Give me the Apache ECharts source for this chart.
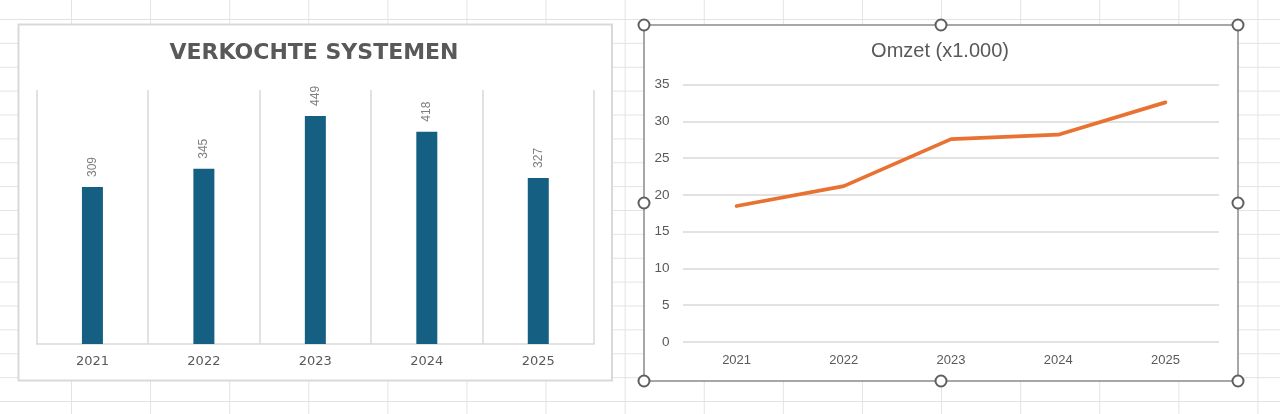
<!DOCTYPE html>
<html>
<head>
<meta charset="utf-8">
<script src="https://cdn.jsdelivr.net/npm/echarts@6/dist/echarts.min.js"></script>
<style>
  html, body { margin: 0; padding: 0; background: #ffffff; }
  #chart {
    width: 1280px; height: 414px;
    background-color: #ffffff;
    background-image:
      linear-gradient(to right, #e3e3e3 1px, transparent 1px),
      linear-gradient(to bottom, #e3e3e3 1px, transparent 1px);
    background-size: 79.1px 100%, 100% 23.88px;
    background-position: 71px 0, 0 19px;
  }
</style>
</head>
<body>
<div id="chart"></div>
<script>
// ---- data ----
const categories = ['2021', '2022', '2023', '2024', '2025'];
const soldSystems = [309, 345, 449, 418, 327];
const revenue = [18.5, 21.2, 27.6, 28.2, 32.6];
const barTitle = 'VERKOCHTE SYSTEMEN';
const lineTitle = 'Omzet (x1.000)';
const revenueAxis = { min: 0, max: 35, interval: 5 };
const soldAxis = { min: 0, max: 500 };

const chart = echarts.init(document.getElementById('chart'), null, { renderer: 'canvas' });

const handlePts = [
  [644, 25], [941, 25], [1238, 25],
  [644, 203], [1238, 203],
  [644, 381], [941, 381], [1238, 381]
];

const option = {
  animation: false,
  backgroundColor: 'transparent',
  graphic: [
    { type: 'rect', z: -10, shape: { x: 18.5, y: 24.5, width: 593.5, height: 356 },
      style: { fill: '#ffffff', stroke: '#d9d9d9', lineWidth: 2 } },
    { type: 'rect', z: -10, shape: { x: 644, y: 25, width: 594, height: 356 },
      style: { fill: '#ffffff', stroke: '#8a8a8a', lineWidth: 1.5 } },
    { type: 'text', z: 10, x: 314, y: 53.5,
      style: { text: barTitle, align: 'center', verticalAlign: 'middle',
               font: 'bold 22px "DejaVu Sans"', fill: '#595959' } },
    { type: 'text', z: 10, x: 940, y: 51,
      style: { text: lineTitle, align: 'center', verticalAlign: 'middle',
               font: '20px "Liberation Sans"', fill: '#595959' } }
  ].concat(handlePts.map(p => ({
    type: 'circle', z: 100, shape: { cx: p[0], cy: p[1], r: 5.5 },
    style: { fill: '#ffffff', stroke: '#5f5f5f', lineWidth: 2 }
  }))),
  grid: [
    { left: 36.7, top: 90, width: 557.3, height: 254, containLabel: false },
    { left: 683, top: 84.7, width: 536, height: 257.3, containLabel: false }
  ],
  xAxis: [
    { type: 'category', gridIndex: 0, data: categories, boundaryGap: true,
      axisLine: { show: true, lineStyle: { color: '#d9d9d9', width: 1.5 } },
      axisTick: { show: false },
      splitLine: { show: true, interval: 0, lineStyle: { color: '#d9d9d9', width: 1.5 } },
      axisLabel: { margin: 11, fontFamily: 'DejaVu Sans', fontSize: 13, color: '#595959' } },
    { type: 'category', gridIndex: 1, data: categories, boundaryGap: true,
      axisLine: { show: false },
      axisTick: { show: false },
      axisLabel: { margin: 12, fontFamily: 'Liberation Sans', fontSize: 13, color: '#595959' } }
  ],
  yAxis: [
    { type: 'value', gridIndex: 0, min: soldAxis.min, max: soldAxis.max, show: false,
      splitLine: { show: false } },
    { type: 'value', gridIndex: 1, min: revenueAxis.min, max: revenueAxis.max, interval: revenueAxis.interval,
      axisLine: { show: false }, axisTick: { show: false },
      splitLine: { show: true, lineStyle: { color: '#d9d9d9', width: 1.5 } },
      axisLabel: { margin: 13.5, fontFamily: 'Liberation Sans', fontSize: 13.5, color: '#595959' } }
  ],
  series: [
    { type: 'bar', xAxisIndex: 0, yAxisIndex: 0, data: soldSystems, barWidth: 21,
      itemStyle: { color: '#156082' },
      label: { show: true, position: 'top', rotate: 90, align: 'left', verticalAlign: 'middle',
               distance: 10, fontFamily: 'Liberation Sans', fontSize: 12, color: '#7f7f7f' } },
    { type: 'line', xAxisIndex: 1, yAxisIndex: 1, data: revenue, showSymbol: false, symbol: 'none',
      lineStyle: { color: '#E97132', width: 3.75, cap: 'round', join: 'round' } }
  ]
};
chart.setOption(option);
</script>
</body>
</html>
